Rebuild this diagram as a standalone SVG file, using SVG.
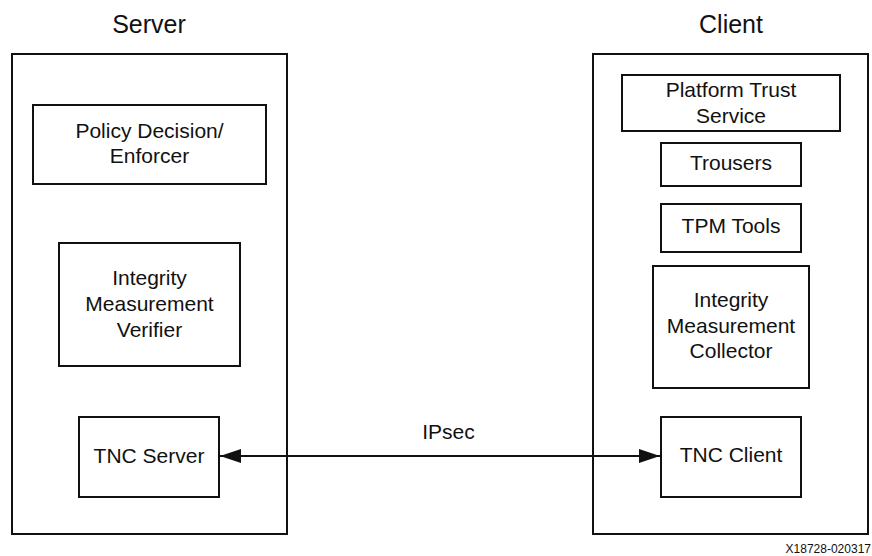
<svg xmlns="http://www.w3.org/2000/svg" width="872" height="556" viewBox="0 0 872 556">
<style>
  .box { fill: #ffffff; stroke: #111111; stroke-width: 2; }
  .t { font-family: "Liberation Sans", Arial, sans-serif; font-size: 21px; fill: #111111; text-anchor: middle; }
  .title { font-family: "Liberation Sans", Arial, sans-serif; font-size: 25px; fill: #111111; text-anchor: middle; }
  .note { font-family: "Liberation Sans", Arial, sans-serif; font-size: 12px; fill: #111111; text-anchor: end; }
  .conn { stroke: #111111; stroke-width: 2; fill: none; }
</style>
<defs>
  <marker id="ah" viewBox="0 0 21 14" refX="21" refY="7" markerWidth="21" markerHeight="14" markerUnits="userSpaceOnUse" orient="auto-start-reverse">
    <path d="M0,0 L21,7 L0,14 Z" fill="#111111"/>
  </marker>
</defs>
<rect width="872" height="556" fill="#ffffff"/>

<g id="server">
  <text class="title" x="149" y="33">Server</text>
  <rect class="box" x="12" y="54" width="275" height="480"/>
</g>
<g id="client">
  <text class="title" x="731" y="33">Client</text>
  <rect class="box" x="593" y="54" width="275" height="480"/>
</g>

<g id="policy">
  <rect class="box" x="33" y="105" width="233" height="79"/>
  <text class="t" x="149.5" y="138">Policy Decision/</text>
  <text class="t" x="149.5" y="163">Enforcer</text>
</g>
<g id="imv">
  <rect class="box" x="59" y="243" width="181" height="123"/>
  <text class="t" x="149.5" y="285">Integrity</text>
  <text class="t" x="149.5" y="311">Measurement</text>
  <text class="t" x="149.5" y="337">Verifier</text>
</g>
<g id="tnc-server">
  <rect class="box" x="79" y="417" width="140" height="80"/>
  <text class="t" x="149" y="463">TNC Server</text>
</g>

<g id="pts">
  <rect class="box" x="622" y="75" width="218" height="56"/>
  <text class="t" x="731" y="97">Platform Trust</text>
  <text class="t" x="731" y="123">Service</text>
</g>
<g id="trousers">
  <rect class="box" x="661" y="143" width="140" height="43"/>
  <text class="t" x="731" y="170">Trousers</text>
</g>
<g id="tpm-tools">
  <rect class="box" x="661" y="204" width="140" height="48"/>
  <text class="t" x="731" y="233">TPM Tools</text>
</g>
<g id="imc">
  <rect class="box" x="653" y="266" width="156" height="122"/>
  <text class="t" x="731" y="307">Integrity</text>
  <text class="t" x="731" y="333">Measurement</text>
  <text class="t" x="731" y="358">Collector</text>
</g>
<g id="tnc-client">
  <rect class="box" x="661" y="417" width="140" height="80"/>
  <text class="t" x="731" y="462">TNC Client</text>
</g>

<g id="connectors">
  <line class="conn" x1="220" y1="456" x2="660" y2="456" marker-start="url(#ah)" marker-end="url(#ah)"/>
  <text class="t" x="448.5" y="439">IPsec</text>
</g>

<text class="note" x="871" y="553">X18728-020317</text>
</svg>
